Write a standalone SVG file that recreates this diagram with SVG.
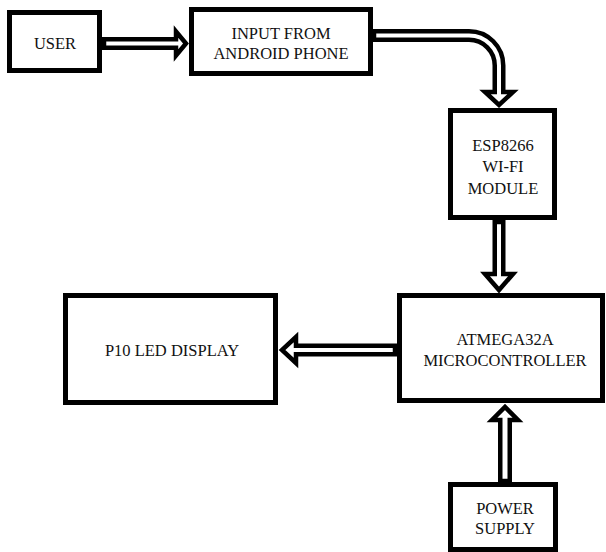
<svg xmlns="http://www.w3.org/2000/svg" width="606" height="552" viewBox="0 0 606 552">
<style>
.box{fill:#fff;stroke:#000;stroke-width:5}
.arrow{fill:#fff;stroke:#000;stroke-width:4.5;stroke-linejoin:miter}
text{font-family:"Liberation Serif","DejaVu Serif",serif;font-size:16.5px;fill:#111;text-anchor:middle}
</style>
<rect width="606" height="552" fill="#fff"/>
<g id="connectors">
<path class="arrow" d="M104,39.25 H176 V31.5 L186,43.5 L176,55.5 V47.75 H104 Z"/>
<path class="arrow" d="M374,31.25 H469 A34.25,34.25 0 0 1 503.25,65.5 V92 H513 L499,105 L485,92 H494.75 V65.5 A25.75,25.75 0 0 0 469,39.75 H374 Z"/>
<path class="arrow" d="M494.75,222 V274 H485 L499,290 L513,274 H503.25 V222 Z"/>
<path class="arrow" d="M395,345.75 H296 V337 L282,350 L296,363 V354.25 H395 Z"/>
<path class="arrow" d="M500.25,481 V420 H492 L505,407 L518,420 H509.75 V481 Z"/>
</g>
<g id="user"><rect class="box" x="9.5" y="12.5" width="90" height="58"/><text x="55" y="49">USER</text></g>
<g id="input"><rect class="box" x="191.5" y="9.5" width="179" height="64"/><text x="281" y="39">INPUT FROM</text><text x="281" y="59">ANDROID PHONE</text></g>
<g id="esp"><rect class="box" x="450.5" y="110.5" width="104" height="107"/><text x="503" y="151">ESP8266</text><text x="503" y="172">WI-FI</text><text x="503" y="194">MODULE</text></g>
<g id="atmega"><rect class="box" x="399.5" y="295.5" width="203" height="105"/><text x="505" y="345">ATMEGA32A</text><text x="505" y="366">MICROCONTROLLER</text></g>
<g id="p10"><rect class="box" x="65.5" y="295.5" width="210" height="107"/><text x="172" y="356">P10 LED DISPLAY</text></g>
<g id="power"><rect class="box" x="450.5" y="484.5" width="105" height="65"/><text x="505" y="514">POWER</text><text x="505" y="534">SUPPLY</text></g>
</svg>
